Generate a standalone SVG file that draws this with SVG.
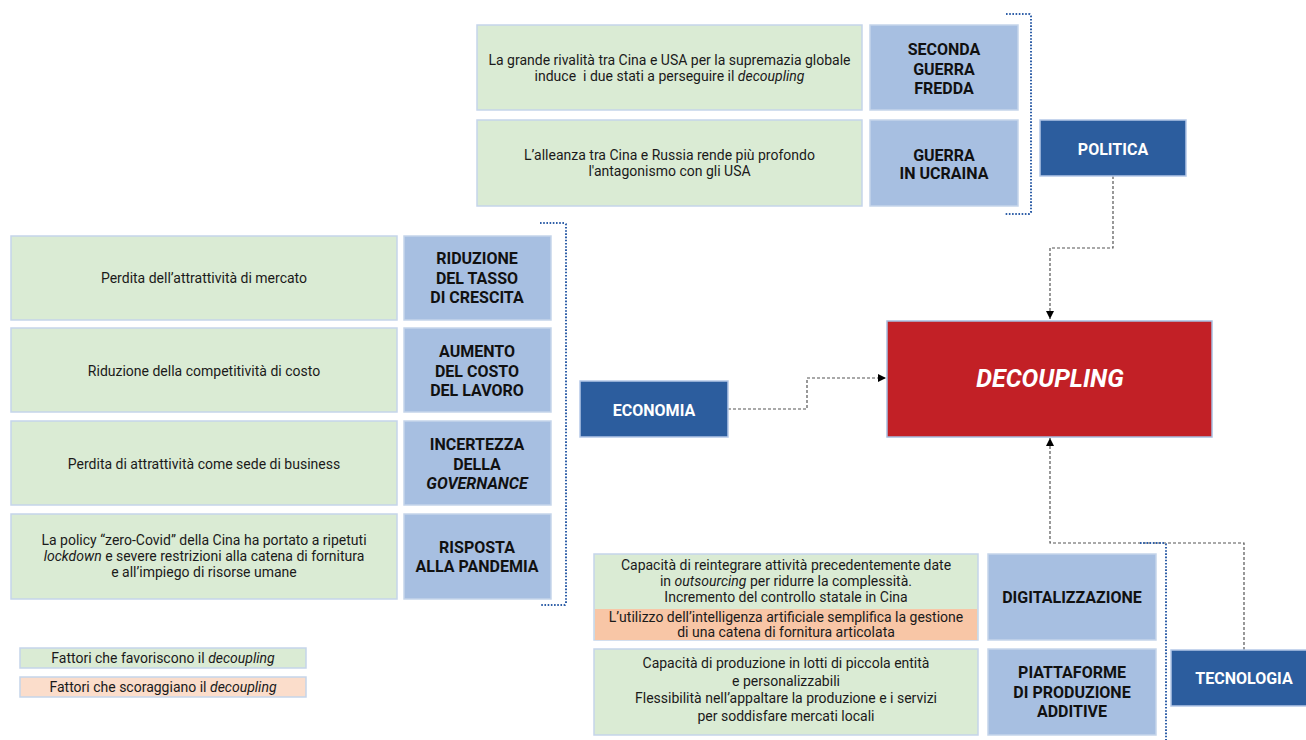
<svg xmlns="http://www.w3.org/2000/svg" width="1306" height="740" viewBox="0 0 1306 740">
<style>
.g{fill:#DAEBD4;stroke:#C5D5EA;stroke-width:1.5}
.o{fill:#F8C6A6;stroke:none}
.b{fill:#A7BFE1;stroke:#C5D5EA;stroke-width:1.5}
.d{fill:#2C5D9E;stroke:#B4C7E7;stroke-width:1.5}
.r{fill:#C22026;stroke:#A7BFE1;stroke-width:1.5}
.t{font-family:Roboto,"Liberation Sans",sans-serif;font-size:14px;fill:#1a1a1a;text-anchor:middle}
.bt{font-family:Roboto,"Liberation Sans",sans-serif;font-size:16px;font-weight:bold;fill:#111;text-anchor:middle}
.wt{font-family:Roboto,"Liberation Sans",sans-serif;font-size:16px;font-weight:bold;fill:#fff;text-anchor:middle}
.br{fill:none;stroke:#2F5FA8;stroke-width:2;stroke-dasharray:1.6,1.6}
.c{fill:none;stroke:#555;stroke-width:1.2;stroke-dasharray:3,2}
</style>
<defs>
<marker id="ah" viewBox="0 0 10 10" refX="10" refY="5" markerWidth="8" markerHeight="8" orient="auto" markerUnits="userSpaceOnUse">
<path d="M0,0 L10,5 L0,10 z" fill="#000"/>
</marker>
</defs>

<g id="connectors">
<path class="c" d="M1113,176 V248 H1050 V319" marker-end="url(#ah)"/>
<path class="c" d="M728,409 H807 V378 H886" marker-end="url(#ah)"/>
<path class="c" d="M1244,650 V543 H1050 V438" marker-end="url(#ah)"/>
<path class="br" d="M1006,14 H1029 Q1031,14 1031,16 V212 Q1031,214 1029,214 H1005"/>
<path class="br" d="M540,223 H564 Q566,223 566,225 V603 Q566,605 564,605 H540"/>
<path class="br" d="M1140,543 H1164 Q1166,543 1166,545 V740"/>
</g>

<g id="politica">
<rect class="d" x="1040" y="120" width="146" height="56"/>
<text class="wt" x="1113" y="155">POLITICA</text>
</g>
<g id="economia">
<rect class="d" x="580" y="381" width="148" height="56"/>
<text class="wt" x="654" y="416">ECONOMIA</text>
</g>
<g id="tecnologia">
<rect class="d" x="1171" y="650" width="148" height="56"/>
<text class="wt" x="1244" y="684">TECNOLOGIA</text>
</g>
<g id="decoupling">
<rect class="r" x="887" y="321" width="325" height="116"/>
<text x="1050" y="387" font-family="Roboto,'Liberation Sans',sans-serif" font-size="25" font-weight="bold" font-style="italic" fill="#fff" text-anchor="middle">DECOUPLING</text>
</g>

<g id="p1-text">
<rect class="g" x="477" y="25" width="385" height="85"/>
<text class="t" x="669.5" y="65">La grande rivalità tra Cina e USA per la supremazia globale</text>
<text class="t" x="669.5" y="81" xml:space="preserve">induce  i due stati a perseguire il <tspan font-style="italic">decoupling</tspan></text>
</g>
<g id="p1-label">
<rect class="b" x="870" y="25" width="148" height="85"/>
<text class="bt" x="944" y="55">SECONDA</text>
<text class="bt" x="944" y="75">GUERRA</text>
<text class="bt" x="944" y="94">FREDDA</text>
</g>
<g id="p2-text">
<rect class="g" x="477" y="120" width="385" height="86"/>
<text class="t" x="669.5" y="160">L’alleanza tra Cina e Russia rende più profondo</text>
<text class="t" x="669.5" y="176">l'antagonismo con gli USA</text>
</g>
<g id="p2-label">
<rect class="b" x="870" y="120" width="148" height="86"/>
<text class="bt" x="944" y="161">GUERRA</text>
<text class="bt" x="944" y="179">IN UCRAINA</text>
</g>

<g id="e1-text">
<rect class="g" x="11" y="236" width="386" height="84"/>
<text class="t" x="204" y="283">Perdita dell’attrattività di mercato</text>
</g>
<g id="e1-label">
<rect class="b" x="404" y="236" width="147" height="84"/>
<text class="bt" x="477" y="264">RIDUZIONE</text>
<text class="bt" x="477" y="284">DEL TASSO</text>
<text class="bt" x="477" y="303">DI CRESCITA</text>
</g>
<g id="e2-text">
<rect class="g" x="11" y="328" width="386" height="84"/>
<text class="t" x="204" y="376">Riduzione della competitività di costo</text>
</g>
<g id="e2-label">
<rect class="b" x="404" y="328" width="147" height="84"/>
<text class="bt" x="477" y="357">AUMENTO</text>
<text class="bt" x="477" y="377">DEL COSTO</text>
<text class="bt" x="477" y="396">DEL LAVORO</text>
</g>
<g id="e3-text">
<rect class="g" x="11" y="421" width="386" height="84"/>
<text class="t" x="204" y="469">Perdita di attrattività come sede di business</text>
</g>
<g id="e3-label">
<rect class="b" x="404" y="421" width="147" height="84"/>
<text class="bt" x="477" y="450">INCERTEZZA</text>
<text class="bt" x="477" y="470">DELLA</text>
<text class="bt" x="477" y="489" font-style="italic">GOVERNANCE</text>
</g>
<g id="e4-text">
<rect class="g" x="11" y="514" width="386" height="85"/>
<text class="t" x="204" y="545">La policy “zero-Covid” della Cina ha portato a ripetuti</text>
<text class="t" x="204" y="561"><tspan font-style="italic">lockdown</tspan> e severe restrizioni alla catena di fornitura</text>
<text class="t" x="204" y="577">e all’impiego di risorse umane</text>
</g>
<g id="e4-label">
<rect class="b" x="404" y="514" width="147" height="85"/>
<text class="bt" x="477" y="553">RISPOSTA</text>
<text class="bt" x="477" y="572">ALLA PANDEMIA</text>
</g>

<g id="t1-text">
<rect class="g" x="594" y="554" width="384" height="86"/>
<rect class="o" x="595" y="609" width="382" height="31"/>
<text class="t" x="786" y="570">Capacità di reintegrare attività precedentemente date</text>
<text class="t" x="786" y="586">in <tspan font-style="italic">outsourcing</tspan> per ridurre la complessità.</text>
<text class="t" x="786" y="602">Incremento del controllo statale in Cina</text>
<text class="t" x="786" y="622">L’utilizzo dell’intelligenza artificiale semplifica la gestione</text>
<text class="t" x="786" y="637">di una catena di fornitura articolata</text>
</g>
<g id="t1-label">
<rect class="b" x="988" y="554" width="168" height="86"/>
<text class="bt" x="1072" y="603">DIGITALIZZAZIONE</text>
</g>
<g id="t2-text">
<rect class="g" x="594" y="649" width="384" height="86"/>
<text class="t" x="786" y="668">Capacità di produzione in lotti di piccola entità</text>
<text class="t" x="786" y="686">e personalizzabili</text>
<text class="t" x="786" y="703">Flessibilità nell’appaltare la produzione e i servizi</text>
<text class="t" x="786" y="721">per soddisfare mercati locali</text>
</g>
<g id="t2-label">
<rect class="b" x="988" y="649" width="168" height="86"/>
<text class="bt" x="1072" y="678">PIATTAFORME</text>
<text class="bt" x="1072" y="698">DI PRODUZIONE</text>
<text class="bt" x="1072" y="717">ADDITIVE</text>
</g>

<g id="legend">
<rect class="g" x="20" y="648" width="286" height="20"/>
<text class="t" x="163" y="663">Fattori che favoriscono il <tspan font-style="italic">decoupling</tspan></text>
<rect x="20" y="677" width="286" height="20" fill="#FBDDCB" stroke="#C5D5EA" stroke-width="1.5"/>
<text class="t" x="163" y="692">Fattori che scoraggiano il <tspan font-style="italic">decoupling</tspan></text>
</g>
</svg>
